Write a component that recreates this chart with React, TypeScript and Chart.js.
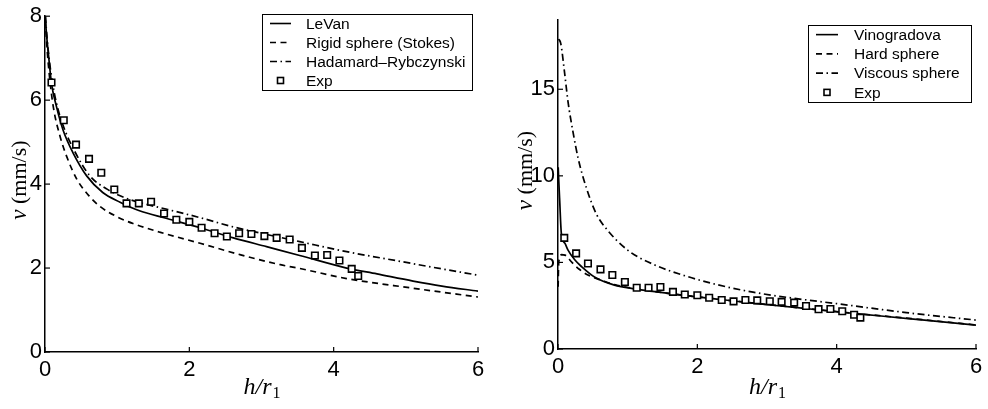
import React, { useEffect, useRef } from "react";
import { Chart, registerables } from "chart.js";
Chart.register(...registerables);

// ---------- shared experimental data ----------
const expX = [0.09, 0.26, 0.43, 0.61, 0.78, 0.96, 1.13, 1.30, 1.47, 1.65, 1.82, 2.00, 2.17, 2.35, 2.52, 2.69, 2.86, 3.04, 3.21, 3.39, 3.56, 3.74, 3.91, 4.08, 4.25, 4.34];
const expY = [6.42, 5.52, 4.94, 4.60, 4.27, 3.87, 3.54, 3.54, 3.58, 3.30, 3.15, 3.10, 2.96, 2.83, 2.75, 2.83, 2.81, 2.76, 2.72, 2.68, 2.48, 2.30, 2.31, 2.18, 1.98, 1.81];

// ---------- left panel ----------
const levanX = [0.005, 0.015, 0.05, 0.09, 0.16, 0.25, 0.39, 0.58, 0.8, 1.04, 1.3, 1.69, 2.15, 2.61, 3.07, 3.53, 4.18, 4.6, 5.1, 5.5, 6.0];
const levanY = [8.0, 7.7, 7.05, 6.4, 5.84, 5.29, 4.74, 4.19, 3.80, 3.57, 3.37, 3.18, 2.96, 2.72, 2.51, 2.30, 2.0, 1.86, 1.69, 1.57, 1.45];
const stokesX = [0.005, 0.03, 0.06, 0.115, 0.21, 0.30, 0.44, 0.62, 0.76, 1.0, 1.22, 1.6, 2.15, 2.7, 3.26, 3.53, 4.18, 5.1, 6.0];
const stokesY = [7.9, 7.2, 6.6, 5.84, 5.13, 4.66, 4.12, 3.70, 3.47, 3.22, 3.06, 2.85, 2.59, 2.32, 2.08, 1.99, 1.75, 1.52, 1.31];
const hadX = [0.005, 0.03, 0.06, 0.1, 0.16, 0.25, 0.4, 0.62, 0.86, 1.13, 1.4, 1.69, 2.15, 2.61, 3.07, 3.53, 4.18, 4.92, 5.5, 6.0];
const hadY = [8.0, 7.45, 6.95, 6.45, 5.92, 5.4, 4.82, 4.2, 3.88, 3.66, 3.52, 3.40, 3.2, 2.98, 2.80, 2.63, 2.39, 2.16, 1.98, 1.83];
const leftLabels = ["LeVan", "Rigid sphere (Stokes)", "Hadamard\u2013Rybczynski", "Exp"];
const leftXTicks = [0, 2, 4, 6];
const leftYTicks = [0, 2, 4, 6, 8];

// ---------- right panel ----------
const vinoX = [0.003, 0.01, 0.024, 0.048, 0.1, 0.144, 0.24, 0.34, 0.53, 0.81, 1.1, 1.39, 1.96, 2.4, 2.82, 3.4, 4.0, 4.6, 5.3, 6.0];
const vinoY = [10.5, 9.8, 8.6, 6.68, 6.1, 5.71, 5.15, 4.75, 4.14, 3.69, 3.47, 3.31, 3.02, 2.83, 2.64, 2.40, 2.15, 1.92, 1.65, 1.38];
const hardX = [0.002, 0.008, 0.02, 0.05, 0.1, 0.2, 0.3, 0.43, 0.62, 0.81, 1.39, 1.96, 2.82, 4.0, 5.0, 6.0];
const hardY = [3.6, 4.8, 5.2, 5.45, 5.42, 5.0, 4.62, 4.27, 3.98, 3.72, 3.32, 3.03, 2.65, 2.16, 1.78, 1.39];
const viscX = [0.01, 0.04, 0.096, 0.144, 0.215, 0.29, 0.41, 0.55, 0.67, 1.0, 1.39, 1.87, 2.3, 2.8, 3.4, 4.0, 5.0, 6.0];
const viscY = [17.9, 17.64, 15.9, 14.27, 12.54, 11.0, 9.27, 7.8, 7.06, 5.71, 4.85, 4.17, 3.7, 3.28, 2.92, 2.62, 2.1, 1.67];
const rightLabels = ["Vinogradova", "Hard sphere", "Viscous sphere", "Exp"];
const rightXTicks = [0, 2, 4, 6];
const rightYTicks = [0, 5, 10, 15];

const SANS = "'Liberation Sans', Arial, Helvetica, sans-serif";
const SERIF = "'Liberation Serif', 'Times New Roman', serif";
const DASHED = [6, 4.5];
const DASHDOT = [7, 3.5, 1.5, 3.5];

const toPts = (xs: number[], ys: number[]) => xs.map((x, i) => ({ x, y: ys[i] }));

const inwardTicks = {
  id: "inwardTicks",
  afterDatasetsDraw(chart: any) {
    const { ctx, chartArea, scales } = chart;
    const L = 5;
    ctx.save();
    ctx.strokeStyle = "#000";
    ctx.lineWidth = 1.2;
    scales.x.ticks.forEach((t: any) => {
      const px = scales.x.getPixelForValue(t.value);
      ctx.beginPath();
      ctx.moveTo(px, chartArea.bottom);
      ctx.lineTo(px, chartArea.bottom - L);
      ctx.stroke();
    });
    scales.y.ticks.forEach((t: any) => {
      const py = scales.y.getPixelForValue(t.value);
      ctx.beginPath();
      ctx.moveTo(chartArea.left, py);
      ctx.lineTo(chartArea.left + L, py);
      ctx.stroke();
    });
    ctx.restore();
  },
};

const axisTitles = {
  id: "axisTitles",
  afterDraw(chart: any, _args: any, opts: any) {
    const { ctx, chartArea } = chart;
    ctx.save();
    ctx.fillStyle = "#000";
    ctx.textBaseline = "alphabetic";
    // y title
    const cy = (chartArea.top + chartArea.bottom) / 2 + opts.yTitleShift;
    ctx.translate(opts.yTitleX, cy);
    ctx.rotate(-Math.PI / 2);
    ctx.font = `italic 23px ${SERIF}`;
    const vW = ctx.measureText("v").width;
    ctx.font = `22px ${SERIF}`;
    const restW = ctx.measureText(" (mm/s)").width;
    const total = vW + restW;
    ctx.font = `italic 23px ${SERIF}`;
    ctx.fillText("v", -total / 2, 7);
    ctx.font = `22px ${SERIF}`;
    ctx.fillText(" (mm/s)", -total / 2 + vW, 7);
    ctx.setTransform(1, 0, 0, 1, 0, 0);
    // x title
    const cx = (chartArea.left + chartArea.right) / 2;
    ctx.font = `italic 24px ${SERIF}`;
    const mainW = ctx.measureText("h/r").width;
    ctx.font = `16px ${SERIF}`;
    const subW = ctx.measureText("1").width;
    const start = cx - (mainW + subW) / 2;
    ctx.font = `italic 24px ${SERIF}`;
    ctx.fillText("h/r", start, opts.xTitleY);
    ctx.font = `16px ${SERIF}`;
    ctx.fillText("1", start + mainW + 1, opts.xTitleY + 4);
    ctx.restore();
  },
};

const boxLegend = {
  id: "boxLegend",
  afterDraw(chart: any, _args: any, o: any) {
    const { ctx } = chart;
    const [bx, by, bw, bh] = o.box;
    ctx.save();
    ctx.fillStyle = "#fff";
    ctx.fillRect(bx, by, bw, bh);
    ctx.strokeStyle = "#000";
    ctx.lineWidth = 1;
    ctx.strokeRect(bx + 0.5, by + 0.5, bw, bh);
    const rowH = bh / 4;
    chart.data.datasets.forEach((ds: any, i: number) => {
      const y = by + rowH * (i + 0.5);
      ctx.strokeStyle = "#000";
      ctx.lineWidth = 1.6;
      if (ds.showLine) {
        ctx.setLineDash(ds.borderDash || []);
        ctx.beginPath();
        ctx.moveTo(o.lineX[0], y);
        ctx.lineTo(o.lineX[1], y);
        ctx.stroke();
        ctx.setLineDash([]);
      } else {
        const mx = (o.lineX[0] + o.lineX[1]) / 2;
        ctx.strokeRect(mx - 3, y - 3, 6, 6);
      }
      ctx.fillStyle = "#000";
      ctx.font = `15.5px ${SANS}`;
      ctx.textBaseline = "middle";
      ctx.textAlign = "left";
      ctx.fillText(ds.label, o.textX, y + 1);
    });
    ctx.restore();
  },
};

function lineDs(label: string, xs: number[], ys: number[], dash: number[]) {
  return {
    label,
    data: toPts(xs, ys),
    showLine: true,
    borderColor: "#000",
    borderWidth: 1.7,
    borderDash: dash,
    pointRadius: 0,
    cubicInterpolationMode: "monotone",
    order: 1,
  };
}

function expDs(label: string) {
  return {
    label,
    data: toPts(expX, expY),
    showLine: false,
    pointStyle: "rect",
    pointRadius: 4.6,
    pointBorderWidth: 1.6,
    borderColor: "#000",
    backgroundColor: "#fff",
    pointBackgroundColor: "#fff",
    pointBorderColor: "#000",
    order: 0,
  };
}

function makeConfig(p: any): any {
  return {
    type: "scatter",
    data: { datasets: p.datasets },
    plugins: [inwardTicks, axisTitles, boxLegend],
    options: {
      responsive: false,
      animation: false,
      devicePixelRatio: 1,
      layout: { padding: p.padding },
      plugins: {
        legend: { display: false },
        tooltip: { enabled: false },
        axisTitles: { yTitleX: p.yTitleX, xTitleY: p.xTitleY, yTitleShift: p.yTitleShift },
        boxLegend: p.legend,
      },
      scales: {
        x: {
          type: "linear",
          min: 0,
          max: 6,
          afterBuildTicks: (s: any) => { s.ticks = p.xTicks.map((v: number) => ({ value: v })); },
          afterFit: (s: any) => { s.height = p.xAxisHeight; },
          grid: { display: true, drawOnChartArea: false, drawTicks: false },
          border: { display: true, color: "#000", width: 1.5 },
          ticks: { color: "#000", padding: 5, font: { family: SANS, size: 22 }, maxRotation: 0 },
        },
        y: {
          type: "linear",
          min: 0,
          max: p.yMax,
          afterBuildTicks: (s: any) => { s.ticks = p.yTicks.map((v: number) => ({ value: v })); },
          afterFit: (s: any) => { s.width = p.yAxisWidth; },
          grid: { display: true, drawOnChartArea: false, drawTicks: false },
          border: { display: true, color: "#000", width: 1.5 },
          ticks: { color: "#000", padding: 3, font: { family: SANS, size: 22 } },
        },
      },
    },
  };
}

function Panel({ left, build }: { left: number; build: () => any }) {
  const ref = useRef<HTMLCanvasElement>(null);
  useEffect(() => {
    const chart = new Chart(ref.current as HTMLCanvasElement, build());
    return () => chart.destroy();
  }, []);
  return (
    <canvas
      ref={ref}
      width={494}
      height={409}
      style={{ position: "absolute", left, top: 0, width: 494, height: 409, display: "block" }}
    />
  );
}

const buildLeft = () =>
  makeConfig({
    datasets: [
      lineDs(leftLabels[0], levanX, levanY, []),
      lineDs(leftLabels[1], stokesX, stokesY, DASHED),
      lineDs(leftLabels[2], hadX, hadY, DASHDOT),
      expDs(leftLabels[3]),
    ],
    xTicks: leftXTicks,
    yTicks: leftYTicks,
    yMax: 8,
    yAxisWidth: 45,
    xAxisHeight: 57,
    padding: { left: 0, right: 16, top: 11, bottom: 0 },
    yTitleX: 19,
    yTitleShift: -4,
    xTitleY: 394,
    legend: { box: [262, 14, 210, 76], lineX: [270, 291], textX: 306 },
  });

const buildRight = () =>
  makeConfig({
    datasets: [
      lineDs(rightLabels[0], vinoX, vinoY, []),
      lineDs(rightLabels[1], hardX, hardY, DASHED),
      lineDs(rightLabels[2], viscX, viscY, DASHDOT),
      expDs(rightLabels[3]),
    ],
    xTicks: rightXTicks,
    yTicks: rightYTicks,
    yMax: 19,
    yAxisWidth: 64,
    xAxisHeight: 60,
    padding: { left: 0, right: 12, top: 20, bottom: 0 },
    yTitleX: 31,
    yTitleShift: -14,
    xTitleY: 394,
    legend: { box: [314, 25, 163, 77], lineX: [322, 344], textX: 360 },
  });

export default function App() {
  return (
    <div style={{ position: "absolute", left: 0, top: 0, width: 988, height: 409, background: "#fff" }}>
      <Panel left={0} build={buildLeft} />
      <Panel left={494} build={buildRight} />
    </div>
  );
}
